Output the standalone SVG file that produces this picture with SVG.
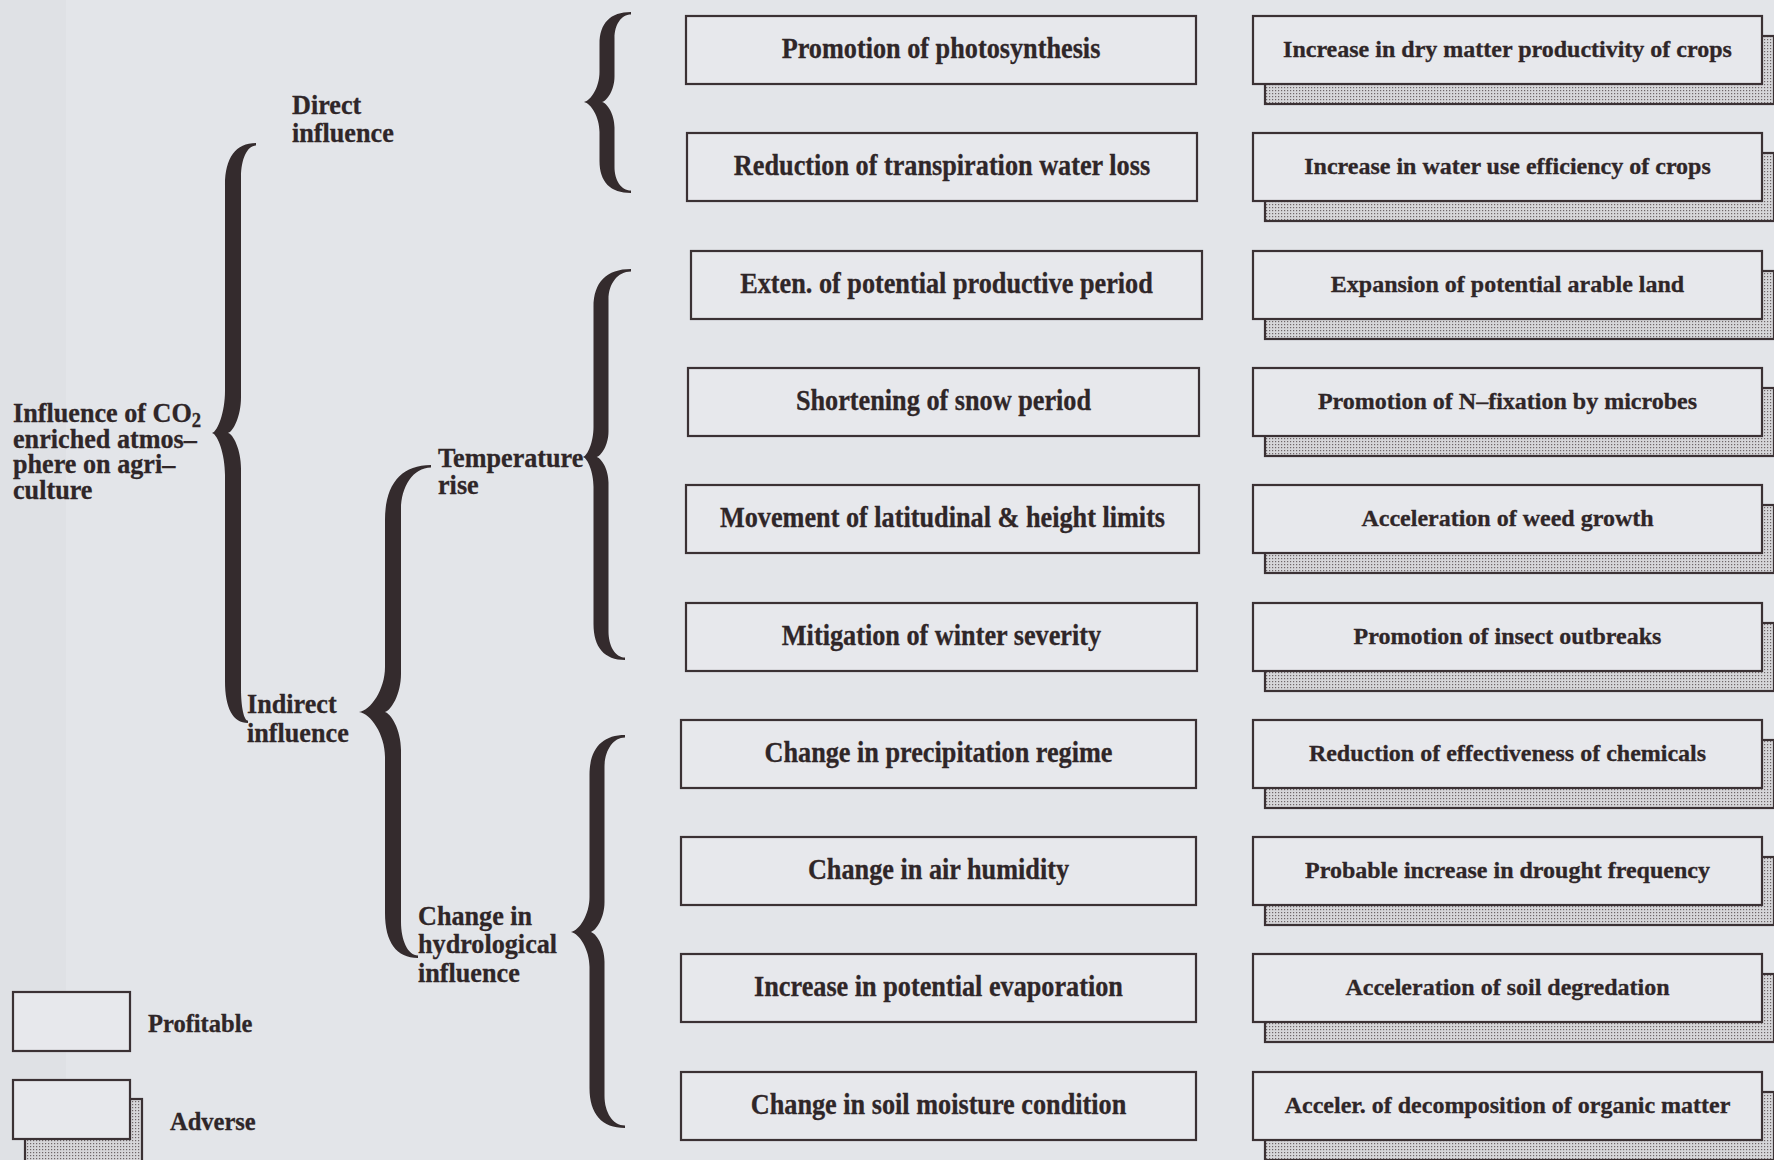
<svg xmlns="http://www.w3.org/2000/svg" width="1774" height="1160" viewBox="0 0 1774 1160">
<defs>
<pattern id="dots" width="3" height="3" patternUnits="userSpaceOnUse"><rect width="3" height="3" fill="#d6d6d9"/><rect width="1.2" height="1.2" fill="#6e6668"/></pattern>
</defs>
<style>
.box{fill:#e7e8ec;stroke:#3b3134;stroke-width:2.2}
.shadow{fill:url(#dots);stroke:#3b3134;stroke-width:2.2}
.brace{fill:#342b2d}
.lbl{font-family:"Liberation Serif","Times New Roman",serif;font-weight:bold;fill:#2f2628;stroke:#2f2628;stroke-width:0.3}
.mid{font-size:29px;text-anchor:middle}
.rt{font-size:24px;text-anchor:middle}
.side{font-size:28px}
.leg{font-size:24.5px}
</style>
<rect width="1774" height="1160" fill="#e3e5e9"/>
<rect width="66" height="1160" fill="#dfe1e5"/>

<g id="connectors">
<path class="brace" d="M631 12 C610.5 12 599.5 23 599.5 44 L599.5 72 C599.5 87 591 100.5 584 102 C591 103.5 599.5 117 599.5 132 L599.5 161 C599.5 182 610.5 193 631 193 L631 190.5 C621.1 190.5 614.5 180 614.5 167 L614.5 127.5 C614.5 114 607 103 602 102 C607 101 614.5 90 614.5 76.5 L614.5 38 C614.5 25 621.1 14.5 631 14.5 Z"/>
<path class="brace" d="M256 143 C235.9 143 225 157.7 225 185 L225 391 C225 412 217.9 431.5 212 433 C217.9 434.5 225 454 225 475 L225 681 C225 708.3 233 723 248 723 L248 720.5 C243.8 720.5 241 706 241 689.4 L241 468.7 C241 449.8 233.2 434 228 433 C233.2 432 241 416.2 241 397.3 L241 176.6 C241 159.8 247 145.5 256 145.5 Z"/>
<path class="brace" d="M431 465 C401.1 465 385 484.3 385 520 L385 667 C385 689.5 370.7 710.5 359 712 C370.7 713.5 385 734.5 385 757 L385 913 C385 942.3 396.6 958 418 958 L418 955.5 C407.8 955.5 401 940 401 922 L401 750.3 C401 730 391.1 713 384.5 712 C391.1 711 401 694 401 673.7 L401 509 C401 487 413 467.5 431 467.5 Z"/>
<path class="brace" d="M631 269 C606.6 269 593.5 282.3 593.5 307 L593.5 427 C593.5 442 587.7 455.5 583 457 C587.7 458.5 593.5 472 593.5 487 L593.5 624 C593.5 647.4 604.5 660 625 660 L625 657.5 C615.1 657.5 608.5 645.6 608.5 631.2 L608.5 482.5 C608.5 469 601.3 458 596.5 457 C601.3 456 608.5 445 608.5 431.5 L608.5 299.4 C608.5 284 617.5 271.5 631 271.5 Z"/>
<path class="brace" d="M625 735 C601.9 735 589.5 749 589.5 775 L589.5 897 C589.5 914.5 579.3 930.5 571 932 C579.3 933.5 589.5 949.5 589.5 967 L589.5 1088 C589.5 1114 601.9 1128 625 1128 L625 1125.5 C612.7 1125.5 604.5 1112 604.5 1096 L604.5 961.75 C604.5 946 596.1 933 590.5 932 C596.1 931 604.5 918 604.5 902.25 L604.5 767 C604.5 751 612.7 737.5 625 737.5 Z"/>
</g>

<g id="root-label">
<text class="lbl side" transform="translate(13 422) scale(0.935 1)">Influence of CO<tspan font-size="20" dy="5">2</tspan></text>
<text class="lbl side" transform="translate(13 448) scale(0.935 1)">enriched atmos–</text>
<text class="lbl side" transform="translate(13 473) scale(0.935 1)">phere on agri–</text>
<text class="lbl side" transform="translate(13 499) scale(0.935 1)">culture</text>
</g>
<g id="direct-label">
<text class="lbl side" transform="translate(292 114) scale(0.935 1)">Direct</text>
<text class="lbl side" transform="translate(292 142) scale(0.935 1)">influence</text>
</g>
<g id="indirect-label">
<text class="lbl side" transform="translate(247 713) scale(0.935 1)">Indirect</text>
<text class="lbl side" transform="translate(247 742) scale(0.935 1)">influence</text>
</g>
<g id="temperature-label">
<text class="lbl side" transform="translate(438 467) scale(0.935 1)">Temperature</text>
<text class="lbl side" transform="translate(438 494) scale(0.935 1)">rise</text>
</g>
<g id="hydro-label">
<text class="lbl side" transform="translate(418 925) scale(0.935 1)">Change in</text>
<text class="lbl side" transform="translate(418 953) scale(0.935 1)">hydrological</text>
<text class="lbl side" transform="translate(418 982) scale(0.935 1)">influence</text>
</g>

<g id="m1"><rect class="box" x="686" y="16" width="510" height="68"/><text class="lbl mid" transform="translate(941 58) scale(0.905 1)">Promotion of photosynthesis</text></g>
<g id="m2"><rect class="box" x="687" y="133" width="510" height="68"/><text class="lbl mid" transform="translate(942 175) scale(0.905 1)">Reduction of transpiration water loss</text></g>
<g id="m3"><rect class="box" x="691" y="251" width="511" height="68"/><text class="lbl mid" transform="translate(946.5 293) scale(0.905 1)">Exten. of potential productive period</text></g>
<g id="m4"><rect class="box" x="688" y="368" width="511" height="68"/><text class="lbl mid" transform="translate(943.5 410) scale(0.905 1)">Shortening of snow period</text></g>
<g id="m5"><rect class="box" x="686" y="485" width="513" height="68"/><text class="lbl mid" transform="translate(942.5 527) scale(0.905 1)">Movement of latitudinal &amp; height limits</text></g>
<g id="m6"><rect class="box" x="686" y="603" width="511" height="68"/><text class="lbl mid" transform="translate(941.5 645) scale(0.905 1)">Mitigation of winter severity</text></g>
<g id="m7"><rect class="box" x="681" y="720" width="515" height="68"/><text class="lbl mid" transform="translate(938.5 762) scale(0.905 1)">Change in precipitation regime</text></g>
<g id="m8"><rect class="box" x="681" y="837" width="515" height="68"/><text class="lbl mid" transform="translate(938.5 879) scale(0.905 1)">Change in air humidity</text></g>
<g id="m9"><rect class="box" x="681" y="954" width="515" height="68"/><text class="lbl mid" transform="translate(938.5 996) scale(0.905 1)">Increase in potential evaporation</text></g>
<g id="m10"><rect class="box" x="681" y="1072" width="515" height="68"/><text class="lbl mid" transform="translate(938.5 1114) scale(0.905 1)">Change in soil moisture condition</text></g>

<g id="r1"><rect class="shadow" x="1265" y="36" width="509" height="68"/><rect class="box" x="1253" y="16" width="509" height="68"/><text class="lbl rt" x="1507.5" y="57">Increase in dry matter productivity of crops</text></g>
<g id="r2"><rect class="shadow" x="1265" y="153" width="509" height="68"/><rect class="box" x="1253" y="133" width="509" height="68"/><text class="lbl rt" x="1507.5" y="174">Increase in water use efficiency of crops</text></g>
<g id="r3"><rect class="shadow" x="1265" y="271" width="509" height="68"/><rect class="box" x="1253" y="251" width="509" height="68"/><text class="lbl rt" x="1507.5" y="292">Expansion of potential arable land</text></g>
<g id="r4"><rect class="shadow" x="1265" y="388" width="509" height="68"/><rect class="box" x="1253" y="368" width="509" height="68"/><text class="lbl rt" x="1507.5" y="409">Promotion of N–fixation by microbes</text></g>
<g id="r5"><rect class="shadow" x="1265" y="505" width="509" height="68"/><rect class="box" x="1253" y="485" width="509" height="68"/><text class="lbl rt" x="1507.5" y="526">Acceleration of weed growth</text></g>
<g id="r6"><rect class="shadow" x="1265" y="623" width="509" height="68"/><rect class="box" x="1253" y="603" width="509" height="68"/><text class="lbl rt" x="1507.5" y="644">Promotion of insect outbreaks</text></g>
<g id="r7"><rect class="shadow" x="1265" y="740" width="509" height="68"/><rect class="box" x="1253" y="720" width="509" height="68"/><text class="lbl rt" x="1507.5" y="761">Reduction of effectiveness of chemicals</text></g>
<g id="r8"><rect class="shadow" x="1265" y="857" width="509" height="68"/><rect class="box" x="1253" y="837" width="509" height="68"/><text class="lbl rt" x="1507.5" y="878">Probable increase in drought frequency</text></g>
<g id="r9"><rect class="shadow" x="1265" y="974" width="509" height="68"/><rect class="box" x="1253" y="954" width="509" height="68"/><text class="lbl rt" x="1507.5" y="995">Acceleration of soil degredation</text></g>
<g id="r10"><rect class="shadow" x="1265" y="1092" width="509" height="68"/><rect class="box" x="1253" y="1072" width="509" height="68"/><text class="lbl rt" x="1507.5" y="1113">Acceler. of decomposition of organic matter</text></g>

<g id="legend-profitable"><rect class="box" x="13" y="992" width="117" height="59"/><text class="lbl leg" x="148" y="1032">Profitable</text></g>
<g id="legend-adverse"><rect class="shadow" x="25" y="1099" width="117" height="64"/><rect class="box" x="13" y="1080" width="117" height="59"/><text class="lbl leg" x="170" y="1130">Adverse</text></g>
</svg>
